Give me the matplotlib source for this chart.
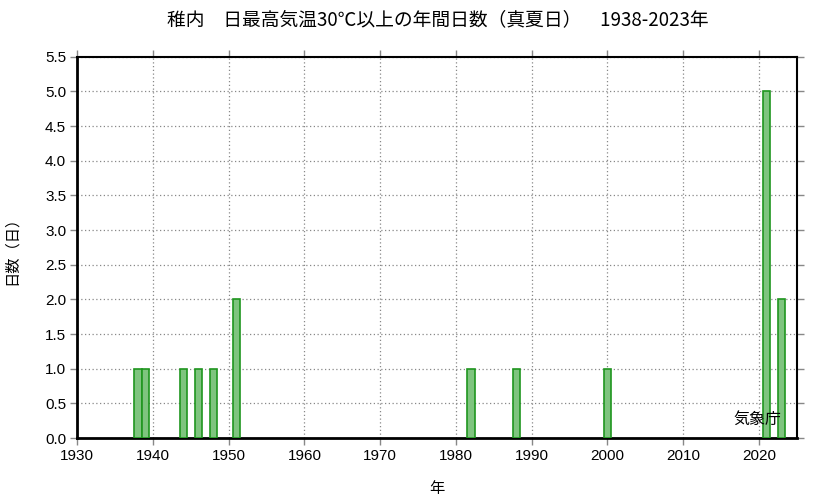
import matplotlib
matplotlib.use("Agg")
import matplotlib.pyplot as plt

years = [1938, 1939, 1944, 1946, 1948, 1951, 1982, 1988, 2000, 2021, 2023]
days = [1, 1, 1, 1, 1, 2, 1, 1, 1, 5, 2]
yticks = [0.0, 0.5, 1.0, 1.5, 2.0, 2.5, 3.0, 3.5, 4.0, 4.5, 5.0, 5.5]
xticks = [1930, 1940, 1950, 1960, 1970, 1980, 1990, 2000, 2010, 2020]

jp = ['Noto Sans CJK JP', 'DejaVu Sans']
num = ['Liberation Sans', 'DejaVu Sans']

fig = plt.figure(figsize=(8.33, 4.98), dpi=100)
ax = fig.add_axes([77.3/833, 1-438/498, (796.7-77.3)/833, (438-56.7)/498])

ax.bar(years, days, width=1.0, color='#7fc47f', edgecolor='#1f961f', linewidth=1.2, zorder=3)

ax.set_xlim(1930, 2025)
ax.set_ylim(0, 5.5)
ax.set_xticks(xticks)
ax.set_yticks(yticks)
ax.set_xticklabels([str(x) for x in xticks], fontsize=11, family=num)
ax.set_yticklabels([f"{v:.1f}" for v in yticks], fontsize=11, family=num)
ax.tick_params(axis='both', direction='out', length=5, color='#888888', width=1, pad=3)
ax.tick_params(axis='y', right=True)
ax.tick_params(axis='x', top=True)
ax.grid(True, linestyle=(0, (1, 2)), color='#888888', linewidth=0.9, zorder=0)
ax.set_axisbelow(True)
for s in ['left', 'bottom']:
    ax.spines[s].set_linewidth(2.0)
for s in ['top', 'right']:
    ax.spines[s].set_linewidth(1.5)

ax.set_xlabel('年', fontsize=11, family=jp, labelpad=12)
ax.set_ylabel('日数（日）', fontsize=11, family=jp, labelpad=18)
fig.text(438/833, 1-20/498, '稚内　日最高気温30℃以上の年間日数（真夏日）　1938-2023年',
         ha='center', va='center', fontsize=13.5, family=jp)
ax.text(0.979, 0.05, '気象庁', transform=ax.transAxes, ha='right', va='center',
        fontsize=11.5, family=jp, zorder=5)

fig.savefig('out.png', dpi=100)
